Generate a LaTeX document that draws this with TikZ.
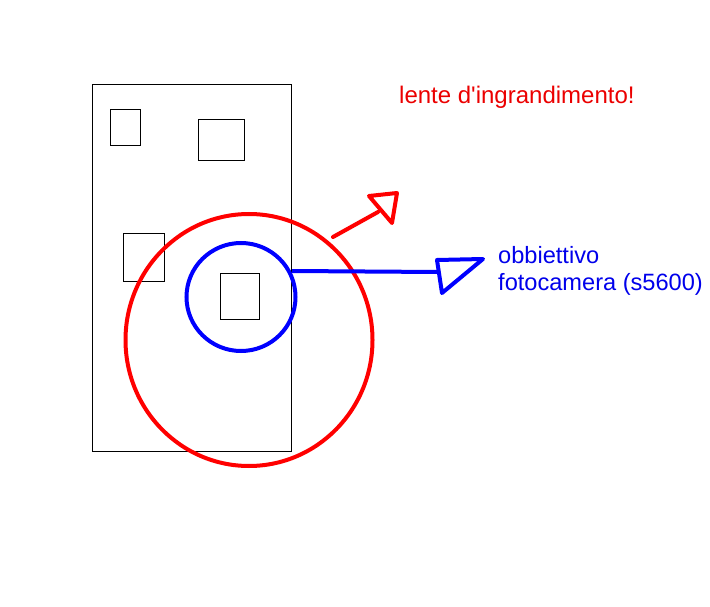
\documentclass[tikz,border=0pt]{standalone}
\usepackage{fontspec}
\usetikzlibrary{shapes.geometric}
\setmainfont{Liberation Sans}
\definecolor{pred}{RGB}{255,0,0}
\definecolor{pblue}{RGB}{0,0,255}
\definecolor{tred}{RGB}{235,0,0}
\definecolor{tblue}{RGB}{0,0,235}
\begin{document}
\begin{tikzpicture}[x=1pt,y=-1pt,
  thinbox/.style={draw=black,line width=1pt,inner sep=0pt,outer sep=0pt,anchor=north west},
  ring/.style={ellipse,line width=4pt,inner sep=0pt,outer sep=0pt},
  stroke/.style={line width=4pt,line cap=round,line join=round}]
\useasboundingbox (0,0) rectangle (710,607);
% phone body and small squares
\node[thinbox,minimum width=199pt,minimum height=366pt] (body) at (92,85) {};
\node[thinbox,minimum width=30pt,minimum height=36pt] (sq1) at (110,110) {};
\node[thinbox,minimum width=46pt,minimum height=41pt] (sq2) at (198,120) {};
\node[thinbox,minimum width=41pt,minimum height=48pt] (sq3) at (123,233) {};
\node[thinbox,minimum width=39pt,minimum height=46pt] (sq4) at (220,273) {};
% circles
\node[ring,draw=pred,minimum width=247pt,minimum height=252pt] (lens) at (249,340) {};
\node[ring,draw=pblue,minimum width=109pt,minimum height=108pt] (cam) at (241,297) {};
% red arrow
\coordinate (ra0) at (333,237);
\coordinate (ra1) at (378,212);
\coordinate (rt1) at (369,196);
\coordinate (rt2) at (397,193);
\coordinate (rt3) at (392,223);
\draw[stroke,pred] (ra0) -- (ra1);
\draw[stroke,pred] (rt1) -- (rt2) -- (rt3) -- cycle;
% blue arrow
\coordinate (ba0) at (292,271);
\coordinate (ba1) at (438,272);
\coordinate (bt1) at (437,260);
\coordinate (bt2) at (483,259);
\coordinate (bt3) at (442,293);
\draw[stroke,pblue,line cap=butt] (ba0) -- (ba1);
\draw[stroke,pblue] (bt1) -- (bt2) -- (bt3) -- cycle;
% labels
\node[anchor=base west,inner sep=0pt,text=tred,font=\fontsize{24}{27}\selectfont] (lenslabel) at (399,104) {lente d\textquotesingle ingrandimento!};
\node[anchor=base west,inner sep=0pt,text=tblue,align=left,font=\fontsize{23.6}{27}\selectfont] (camlabel) at (498,290) {obbiettivo\\fotocamera (s5600)};
\end{tikzpicture}
\end{document}
